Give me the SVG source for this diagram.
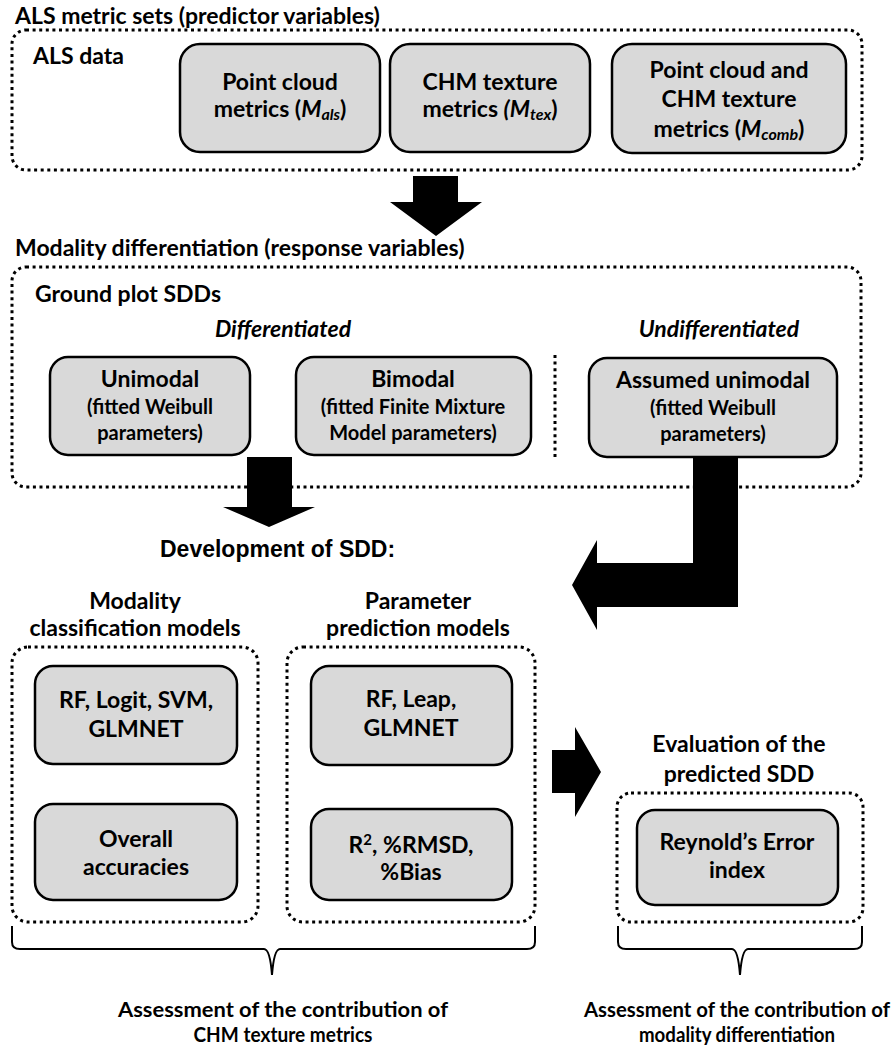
<svg xmlns="http://www.w3.org/2000/svg" width="893" height="1045" viewBox="0 0 893 1045">
<style>
text{font-family:Lato,"Liberation Sans",sans-serif;font-weight:bold;fill:#000}
.h{font-size:23px}
.m{font-size:23px;text-anchor:middle}
.s{font-size:20px;text-anchor:middle}
.it{font-style:italic}
.dev{font-family:"Liberation Sans",Arial,sans-serif;font-size:23px}
.box{fill:#d9d9d9;stroke:#000;stroke-width:2.5}
.dot{fill:none;stroke:#000;stroke-width:3;stroke-dasharray:3 3.6}
.arr{fill:#000}
.brace{fill:none;stroke:#000;stroke-width:2}
.foot{font-size:20px;text-anchor:middle;font-weight:bold}
</style>
<rect width="893" height="1045" fill="#fff"/>

<g id="als-section">
<text class="h" x="15" y="24">ALS metric sets (predictor variables)</text>
<rect class="dot" x="12" y="30" width="850" height="140" rx="14"/>
<text class="h" x="33" y="64">ALS data</text>
</g>
<g id="node-point-cloud">
<rect class="box" x="180" y="44" width="200" height="108" rx="20"/>
<text class="m" x="280" y="90">Point cloud</text>
<text class="m" x="280" y="117">metrics (<tspan class="it">M</tspan><tspan class="it" font-size="16" dy="3">als</tspan><tspan dy="-3">)</tspan></text>
</g>
<g id="node-chm-texture">
<rect class="box" x="390" y="44" width="200" height="108" rx="20"/>
<text class="m" x="490" y="90">CHM texture</text>
<text class="m" x="490" y="117">metrics <tspan class="it">(M</tspan><tspan class="it" font-size="16" dy="3">tex</tspan><tspan dy="-3">)</tspan></text>
</g>
<g id="node-combined">
<rect class="box" x="612" y="44" width="234" height="109" rx="20"/>
<text class="m" x="729" y="78">Point cloud and</text>
<text class="m" x="729" y="107">CHM texture</text>
<text class="m" x="729" y="137">metrics (<tspan class="it">M</tspan><tspan class="it" font-size="16" dy="3">comb</tspan><tspan dy="-3">)</tspan></text>
</g>

<g id="modality-section">
<text class="h" x="15" y="256">Modality differentiation (response variables)</text>
<rect class="dot" x="12" y="267" width="849" height="220" rx="14"/>
<text class="h" x="35" y="302">Ground plot SDDs</text>
<text class="m it" x="283" y="337">Differentiated</text>
<text class="m it" x="719" y="337">Undifferentiated</text>
<line class="dot" x1="555" y1="355" x2="555" y2="458"/>
</g>
<g id="node-unimodal">
<rect class="box" x="50" y="357" width="200" height="98" rx="18"/>
<text class="m" x="150" y="387">Unimodal</text>
<text class="s" x="150" y="414">(fitted Weibull</text>
<text class="s" x="150" y="440">parameters)</text>
</g>
<g id="node-bimodal">
<rect class="box" x="296" y="357" width="235" height="98" rx="18"/>
<text class="m" x="413" y="387">Bimodal</text>
<text class="s" x="413" y="414">(fitted Finite Mixture</text>
<text class="s" x="413" y="440">Model parameters)</text>
</g>
<g id="node-assumed">
<rect class="box" x="589" y="358" width="248" height="99" rx="18"/>
<text class="m" x="713" y="388">Assumed unimodal</text>
<text class="s" x="713" y="415">(fitted Weibull</text>
<text class="s" x="713" y="441">parameters)</text>
</g>

<g id="development">
<text class="dev" x="160" y="557">Development of SDD:</text>
</g>

<g id="classification-group">
<text class="m" x="135" y="609">Modality</text>
<text class="m" x="135" y="636">classification models</text>
<rect class="dot" x="12" y="647" width="246" height="275" rx="16"/>
</g>
<g id="node-rf-logit">
<rect class="box" x="35" y="666" width="202" height="98" rx="18"/>
<text class="m" x="136" y="708">RF, Logit, SVM,</text>
<text class="m" x="136" y="737">GLMNET</text>
</g>
<g id="node-overall">
<rect class="box" x="35" y="804" width="202" height="96" rx="18"/>
<text class="m" x="136" y="847">Overall</text>
<text class="m" x="136" y="875">accuracies</text>
</g>

<g id="parameter-group">
<text class="m" x="418" y="609">Parameter</text>
<text class="m" x="418" y="636">prediction models</text>
<rect class="dot" x="287" y="647" width="248" height="275" rx="16"/>
</g>
<g id="node-rf-leap">
<rect class="box" x="311" y="666" width="201" height="99" rx="18"/>
<text class="m" x="411" y="707" font-size="21">RF, Leap,</text>
<text class="m" x="411" y="736" font-size="21">GLMNET</text>
</g>
<g id="node-r2">
<rect class="box" x="311" y="809" width="201" height="91" rx="18"/>
<text class="m" x="411" y="853">R<tspan font-size="15" dy="-8">2</tspan><tspan dy="8">, %RMSD,</tspan></text>
<text class="m" x="411" y="880">%Bias</text>
</g>

<g id="evaluation-group">
<text class="m" x="739" y="752">Evaluation of the</text>
<text class="m" x="739" y="782">predicted SDD</text>
<rect class="dot" x="617" y="793" width="246" height="129" rx="14"/>
</g>
<g id="node-reynold">
<rect class="box" x="637" y="810" width="201" height="95" rx="18"/>
<text class="m" x="737" y="850">Reynold’s Error</text>
<text class="m" x="737" y="878">index</text>
</g>

<g id="connectors">
<polygon class="arr" points="413,176 458,176 458,202 482,202 436,236 390,202 413,202"/>
<polygon class="arr" points="247,457 292,457 292,507 315,507 269,527 223,507 247,507"/>
<polygon class="arr" points="693,457 738,457 738,607 597,607 597,630 572,585 597,540 597,563 693,563"/>
<polygon class="arr" points="552,750 575,750 575,727 601,772 575,817 575,793 552,793"/>
</g>

<g id="braces">
<path class="brace" d="M12,926 L12,942 Q12,949 20,949 L264,949 Q270,949 272,975 Q274,949 280,949 L527,949 Q535,949 535,942 L535,926"/>
<path class="brace" d="M618,926 L618,942 Q618,949 626,949 L732,949 Q738,949 740,975 Q742,949 748,949 L854,949 Q862,949 862,942 L862,926"/>
</g>

<g id="footnotes">
<text class="foot" x="283" y="1017" textLength="330" lengthAdjust="spacingAndGlyphs">Assessment of the contribution of</text>
<text class="foot" x="283" y="1042" textLength="179" lengthAdjust="spacingAndGlyphs">CHM texture metrics</text>
<text class="foot" x="737" y="1017" textLength="306" lengthAdjust="spacingAndGlyphs">Assessment of the contribution of</text>
<text class="foot" x="737" y="1042" textLength="196" lengthAdjust="spacingAndGlyphs">modality differentiation</text>
</g>
</svg>
